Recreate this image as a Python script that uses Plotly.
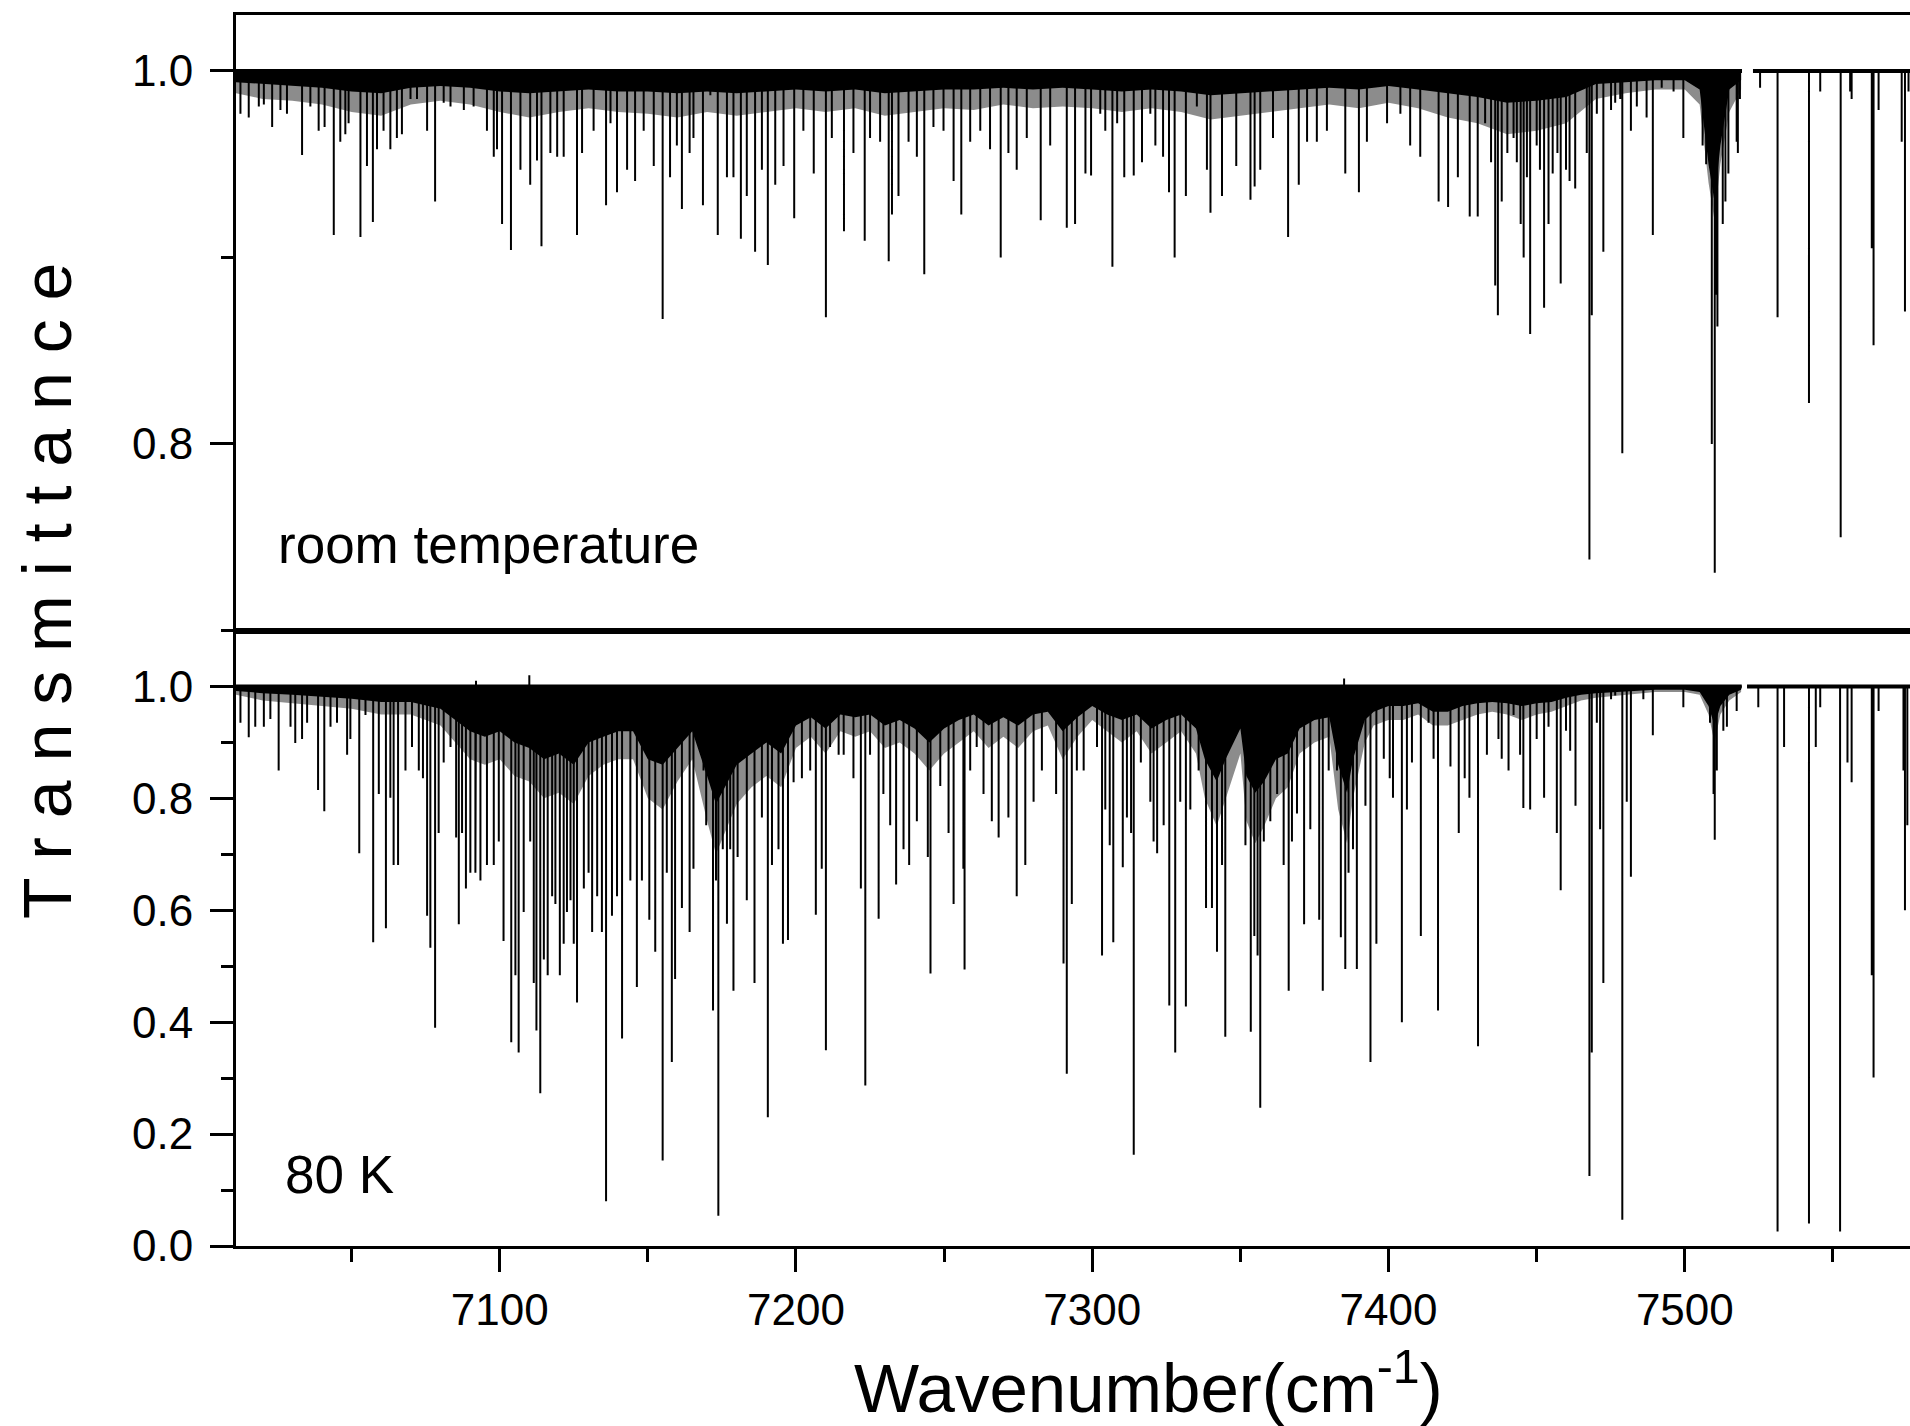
import plotly.graph_objects as go
from plotly.subplots import make_subplots

# absorption lines (wavenumber, transmittance at line centre)
rt_wn = [7012.5, 7015.3, 7018.7, 7020.4, 7023.2, 7026.0, 7028.2, 7033.3, 7036.1, 7038.9,
         7040.9, 7044.0, 7046.2, 7047.9, 7049.0, 7053.0, 7055.2, 7057.2, 7058.6, 7060.8,
         7063.1, 7065.3, 7067.0, 7069.9, 7072.1, 7075.5, 7078.2, 7081.1, 7083.4, 7087.9,
         7091.2, 7095.7, 7098.0, 7099.1, 7100.8, 7103.8, 7107.0, 7110.3, 7112.6, 7114.1,
         7117.1, 7119.4, 7121.6, 7126.1, 7127.8, 7131.7, 7135.9, 7137.4, 7139.6, 7143.0,
         7145.7, 7148.6, 7152.0, 7155.0, 7157.5, 7159.8, 7161.5, 7164.1, 7165.4, 7168.6,
         7171.1, 7173.6, 7176.7, 7178.9, 7181.4, 7183.4, 7186.2, 7188.5, 7190.5, 7193.0,
         7195.8, 7199.4, 7202.5, 7206.0, 7210.1, 7212.1, 7216.2, 7219.4, 7223.2, 7225.0,
         7228.4, 7231.3, 7232.4, 7234.6, 7238.0, 7240.8, 7243.3, 7246.4, 7249.8, 7253.2,
         7255.8, 7258.8, 7262.2, 7265.5, 7269.1, 7271.7, 7274.5, 7277.9, 7282.6, 7285.8,
         7291.4, 7294.2, 7297.7, 7299.6, 7302.7, 7304.4, 7306.8, 7308.4, 7310.8, 7314.0,
         7316.8, 7319.6, 7321.3, 7323.9, 7325.9, 7327.8, 7331.6, 7335.3, 7338.7, 7339.9,
         7343.8, 7348.6, 7353.4, 7354.8, 7356.7, 7361.0, 7366.1, 7369.7, 7372.5, 7375.8,
         7379.2, 7385.4, 7390.0, 7392.7, 7399.5, 7404.0, 7407.3, 7410.7, 7416.9, 7420.1,
         7423.4, 7427.4, 7430.1, 7432.6, 7434.6, 7436.0, 7436.9, 7438.2, 7440.1, 7442.2,
         7443.3, 7444.6, 7445.6, 7446.7, 7447.8, 7450.0, 7451.1, 7452.5, 7454.0, 7455.4,
         7457.0, 7458.1, 7459.9, 7461.1, 7463.0, 7466.9, 7467.8, 7468.6, 7470.3, 7472.5,
         7475.1, 7476.5, 7478.2, 7478.9, 7481.8, 7483.8, 7487.1, 7489.2, 7492.2, 7496.2,
         7499.5, 7506.0, 7507.2, 7508.5, 7509.1, 7510.1, 7510.6, 7511.0, 7512.8, 7513.7,
         7514.7, 7517.5, 7517.9, 7518.6, 7525.4, 7531.3, 7541.9, 7545.7, 7552.6, 7555.8,
         7556.3, 7563.1, 7563.7, 7565.4, 7573.2, 7574.3, 7575.5]
rt_T = [0.977, 0.975, 0.981, 0.982, 0.970, 0.979, 0.977, 0.955, 0.981, 0.968,
        0.970, 0.912, 0.962, 0.966, 0.972, 0.911, 0.949, 0.919, 0.958, 0.968,
        0.958, 0.964, 0.966, 0.985, 0.985, 0.968, 0.930, 0.983, 0.981, 0.979,
        0.981, 0.968, 0.954, 0.958, 0.918, 0.904, 0.947, 0.939, 0.952, 0.906,
        0.956, 0.954, 0.954, 0.912, 0.956, 0.968, 0.928, 0.972, 0.935, 0.947,
        0.941, 0.968, 0.949, 0.867, 0.943, 0.960, 0.926, 0.956, 0.964, 0.928,
        0.987, 0.912, 0.943, 0.943, 0.910, 0.933, 0.903, 0.947, 0.896, 0.939,
        0.949, 0.921, 0.968, 0.945, 0.868, 0.964, 0.914, 0.956, 0.909, 0.964,
        0.962, 0.898, 0.923, 0.933, 0.962, 0.954, 0.891, 0.970, 0.968, 0.941,
        0.923, 0.962, 0.968, 0.958, 0.900, 0.956, 0.947, 0.964, 0.920, 0.960,
        0.916, 0.918, 0.945, 0.944, 0.977, 0.968, 0.895, 0.972, 0.943, 0.944,
        0.951, 0.977, 0.960, 0.954, 0.935, 0.900, 0.933, 0.981, 0.947, 0.924,
        0.933, 0.949, 0.931, 0.938, 0.947, 0.964, 0.911, 0.939, 0.962, 0.962,
        0.968, 0.945, 0.935, 0.962, 0.972, 0.977, 0.960, 0.954, 0.930, 0.927,
        0.943, 0.922, 0.922, 0.972, 0.951, 0.885, 0.869, 0.930, 0.956, 0.964,
        0.951, 0.918, 0.900, 0.943, 0.859, 0.960, 0.947, 0.873, 0.918, 0.945,
        0.956, 0.886, 0.947, 0.941, 0.937, 0.956, 0.738, 0.869, 0.977, 0.903,
        0.979, 0.983, 0.985, 0.795, 0.968, 0.981, 0.975, 0.912, 0.991, 0.989,
        0.964, 0.960, 0.950, 0.956, 0.800, 0.731, 0.880, 0.863, 0.918, 0.930,
        0.945, 0.962, 0.956, 0.985, 0.991, 0.868, 0.822, 0.989, 0.750, 0.989,
        0.985, 0.905, 0.853, 0.979, 0.962, 0.871, 0.989]

# unresolved line forest under the baseline, room temperature:
# core = solid black part, forest = lower edge of the dense weak lines
rt_band_wn = [7011, 7020, 7030, 7040, 7050, 7060, 7070, 7080, 7090, 7100, 7110, 7120, 7130,
              7140, 7150, 7160, 7170, 7180, 7190, 7200, 7210, 7220, 7230, 7240, 7250, 7260,
              7270, 7280, 7290, 7300, 7310, 7320, 7330, 7340, 7350, 7360, 7370, 7380, 7390,
              7400, 7410, 7420, 7430, 7440, 7450, 7460, 7470, 7480, 7490, 7500, 7505, 7508,
              7510, 7512, 7515, 7519]
rt_core_T = [0.994, 0.993, 0.992, 0.991, 0.989, 0.988, 0.991, 0.992, 0.991, 0.989, 0.988, 0.989, 0.990,
             0.989, 0.989, 0.988, 0.989, 0.988, 0.989, 0.990, 0.989, 0.990, 0.988, 0.989, 0.990, 0.990,
             0.991, 0.990, 0.991, 0.990, 0.989, 0.990, 0.989, 0.987, 0.988, 0.989, 0.990, 0.991, 0.990,
             0.992, 0.990, 0.988, 0.986, 0.983, 0.984, 0.986, 0.993, 0.994, 0.995, 0.995, 0.990, 0.950,
             0.930, 0.960, 0.990, 0.995]
rt_forest_T = [0.988, 0.985, 0.984, 0.982, 0.978, 0.976, 0.982, 0.984, 0.982, 0.978, 0.975, 0.978, 0.980,
               0.978, 0.977, 0.975, 0.978, 0.976, 0.978, 0.980, 0.978, 0.980, 0.976, 0.978, 0.980, 0.979,
               0.982, 0.980, 0.981, 0.980, 0.978, 0.980, 0.978, 0.974, 0.976, 0.978, 0.980, 0.982, 0.980,
               0.983, 0.980, 0.975, 0.972, 0.966, 0.968, 0.972, 0.985, 0.988, 0.990, 0.990, 0.982, 0.940,
               0.920, 0.950, 0.978, 0.990]
rt_segments = [(7010.0, 7519.3), (7523.0, 7580.0)]

# absorption lines
k80_wn = [7012.5, 7015.3, 7017.5, 7020.4, 7022.6, 7025.4, 7029.4, 7031.0, 7033.3, 7035.0,
          7038.7, 7040.8, 7042.9, 7045.1, 7048.5, 7049.6, 7052.6, 7054.7, 7057.3, 7059.2,
          7061.6, 7063.1, 7064.2, 7065.7, 7068.2, 7070.4, 7072.7, 7074.1, 7075.5, 7076.6,
          7078.2, 7079.4, 7081.1, 7083.4, 7085.3, 7086.2, 7087.3, 7088.6, 7090.1, 7091.8,
          7092.0, 7093.5, 7095.7, 7098.0, 7099.7, 7101.3, 7103.9, 7105.3, 7106.4, 7108.1,
          7110.0, 7110.3, 7111.5, 7112.4, 7113.7, 7114.9, 7116.2, 7117.7, 7118.8, 7120.3,
          7121.6, 7122.7, 7123.9, 7125.0, 7126.1, 7128.4, 7130.0, 7131.2, 7132.9, 7134.5,
          7135.9, 7137.9, 7139.6, 7141.3, 7144.1, 7146.3, 7148.0, 7150.5, 7152.5, 7155.0,
          7156.4, 7158.1, 7159.2, 7161.5, 7164.1, 7165.4, 7168.8, 7169.7, 7172.0, 7173.0,
          7173.8, 7175.3, 7176.7, 7177.8, 7178.9, 7180.3, 7183.4, 7186.0, 7188.5, 7190.5,
          7191.9, 7194.1, 7195.6, 7197.3, 7199.2, 7202.0, 7204.8, 7206.7, 7208.7, 7210.1,
          7211.5, 7214.4, 7216.1, 7219.4, 7221.9, 7223.4, 7225.0, 7227.9, 7229.5, 7231.8,
          7233.8, 7236.3, 7238.2, 7240.8, 7244.5, 7245.4, 7248.7, 7251.5, 7253.2, 7256.5,
          7256.9, 7258.8, 7261.0, 7263.3, 7266.1, 7268.4, 7271.7, 7274.5, 7277.4, 7280.2,
          7283.0, 7287.8, 7290.3, 7291.4, 7293.1, 7294.8, 7297.1, 7301.6, 7303.3, 7304.4,
          7305.9, 7307.1, 7310.3, 7311.7, 7313.1, 7314.0, 7316.4, 7319.6, 7320.7, 7321.9,
          7324.1, 7326.0, 7328.0, 7329.7, 7331.6, 7333.1, 7335.9, 7338.4, 7340.4, 7342.1,
          7343.8, 7344.9, 7347.7, 7351.7, 7353.5, 7354.7, 7355.8, 7356.7, 7357.9, 7360.1,
          7362.4, 7364.6, 7366.3, 7367.4, 7369.1, 7371.5, 7373.6, 7376.6, 7377.8, 7379.8,
          7382.6, 7383.9, 7385.0, 7385.4, 7386.5, 7388.0, 7389.3, 7392.2, 7393.9, 7395.9,
          7398.4, 7400.4, 7401.5, 7404.5, 7406.2, 7407.9, 7410.9, 7413.5, 7415.2, 7416.7,
          7420.9, 7423.7, 7425.7, 7427.3, 7430.2, 7433.2, 7437.1, 7438.2, 7440.5, 7442.2,
          7444.4, 7445.5, 7447.8, 7450.0, 7452.5, 7454.0, 7456.8, 7458.1, 7459.9, 7461.3,
          7463.1, 7467.8, 7468.6, 7470.3, 7471.4, 7472.5, 7475.1, 7476.5, 7478.9, 7480.4,
          7481.8, 7486.0, 7489.2, 7499.5, 7508.5, 7509.7, 7510.1, 7510.8, 7513.0, 7514.2,
          7517.5, 7524.8, 7531.3, 7533.5, 7541.9, 7544.2, 7545.7, 7552.4, 7554.9, 7556.3,
          7563.1, 7563.7, 7565.4, 7573.8, 7574.3, 7575.1]
k80_T = [0.935, 0.909, 0.928, 0.928, 0.942, 0.850, 0.928, 0.899, 0.906, 0.935,
         0.815, 0.777, 0.928, 0.935, 0.878, 0.906, 0.702, 0.949, 0.543, 0.808,
         0.568, 0.801, 0.681, 0.681, 0.850, 0.892, 0.850, 0.836, 0.590, 0.533,
         0.390, 0.738, 0.864, 0.892, 0.730, 0.575, 0.738, 0.639, 0.667, 0.667,
         1.010, 0.653, 0.681, 0.681, 0.723, 0.545, 0.364, 0.484, 0.346, 0.597,
         1.020, 0.723, 0.470, 0.385, 0.273, 0.512, 0.484, 0.625, 0.611, 0.484,
         0.540, 0.597, 0.618, 0.540, 0.435, 0.639, 0.667, 0.561, 0.625, 0.561,
         0.080, 0.590, 0.625, 0.371, 0.653, 0.463, 0.653, 0.583, 0.526, 0.153,
         0.667, 0.329, 0.477, 0.604, 0.561, 0.674, 0.850, 0.752, 0.421, 0.653,
         0.054, 0.709, 0.576, 0.709, 0.456, 0.695, 0.618, 0.470, 0.766, 0.230,
         0.681, 0.709, 0.540, 0.547, 0.829, 0.836, 0.850, 0.592, 0.674, 0.350,
         0.892, 0.878, 0.878, 0.836, 0.639, 0.287, 0.878, 0.585, 0.808, 0.752,
         0.646, 0.709, 0.681, 0.759, 0.695, 0.487, 0.822, 0.738, 0.611, 0.674,
         0.494, 0.850, 0.892, 0.808, 0.759, 0.730, 0.766, 0.625, 0.681, 0.794,
         0.850, 0.808, 0.505, 0.308, 0.611, 0.850, 0.850, 0.892, 0.519, 0.780,
         0.716, 0.543, 0.677, 0.766, 0.738, 0.163, 0.864, 0.794, 0.723, 0.702,
         0.752, 0.430, 0.346, 0.794, 0.428, 0.780, 0.850, 0.604, 0.604, 0.526,
         0.681, 0.374, 0.906, 0.716, 0.383, 0.554, 0.519, 0.247, 0.723, 0.759,
         0.808, 0.681, 0.456, 0.723, 0.773, 0.575, 0.745, 0.583, 0.456, 0.850,
         0.850, 0.552, 1.014, 0.495, 0.667, 0.709, 0.495, 0.787, 0.329, 0.540,
         0.871, 0.836, 0.801, 0.400, 0.780, 0.864, 0.554, 0.935, 0.871, 0.421,
         0.857, 0.738, 0.836, 0.801, 0.357, 0.878, 0.906, 0.871, 0.850, 0.949,
         0.878, 0.783, 0.780, 0.906, 0.801, 0.928, 0.738, 0.636, 0.921, 0.885,
         0.787, 0.125, 0.346, 0.935, 0.745, 0.470, 0.977, 0.984, 0.047, 0.794,
         0.660, 0.977, 0.913, 0.963, 0.935, 0.808, 0.726, 0.850, 0.921, 0.928,
         0.956, 0.963, 0.026, 0.892, 0.040, 0.892, 0.963, 0.026, 0.864, 0.829,
         0.484, 0.301, 0.956, 0.850, 0.600, 0.752]

# unresolved line forest, 80 K
k80_band_wn = [7011, 7020, 7030, 7040, 7050, 7060, 7070, 7080, 7085, 7090, 7095, 7100, 7105,
               7110, 7115, 7120, 7125, 7130, 7135, 7140, 7145, 7150, 7155, 7160, 7165, 7170,
               7173, 7176, 7180, 7185, 7190, 7195, 7200, 7205, 7210, 7215, 7220, 7225, 7230,
               7235, 7240, 7245, 7250, 7255, 7260, 7265, 7270, 7275, 7280, 7285, 7290, 7295,
               7300, 7305, 7310, 7315, 7320, 7325, 7330, 7335, 7338, 7342, 7345, 7350, 7352,
               7355, 7358, 7362, 7366, 7370, 7375, 7380, 7383, 7386, 7388, 7392, 7395, 7400,
               7405, 7410, 7415, 7420, 7425, 7430, 7435, 7440, 7445, 7450, 7455, 7460, 7465,
               7470, 7480, 7490, 7500, 7505, 7508, 7510, 7512, 7515, 7519]
k80_core_T = [0.992, 0.988, 0.985, 0.982, 0.978, 0.972, 0.972, 0.960, 0.940, 0.920, 0.910, 0.920, 0.900,
              0.890, 0.870, 0.880, 0.860, 0.900, 0.910, 0.920, 0.920, 0.870, 0.860, 0.890, 0.920, 0.840,
              0.790, 0.820, 0.860, 0.880, 0.900, 0.880, 0.930, 0.945, 0.925, 0.950, 0.945, 0.950, 0.930,
              0.940, 0.925, 0.900, 0.925, 0.940, 0.950, 0.930, 0.945, 0.930, 0.950, 0.955, 0.920, 0.945,
              0.965, 0.950, 0.940, 0.950, 0.925, 0.940, 0.950, 0.925, 0.870, 0.830, 0.870, 0.925, 0.840,
              0.810, 0.830, 0.870, 0.880, 0.925, 0.940, 0.945, 0.860, 0.810, 0.870, 0.940, 0.955, 0.965,
              0.965, 0.970, 0.955, 0.955, 0.965, 0.970, 0.972, 0.970, 0.965, 0.970, 0.972, 0.980, 0.985,
              0.988, 0.991, 0.994, 0.994, 0.990, 0.965, 0.930, 0.965, 0.985, 0.994]
k80_forest_T = [0.985, 0.975, 0.970, 0.965, 0.960, 0.950, 0.950, 0.930, 0.900, 0.870, 0.860, 0.870, 0.840,
                0.830, 0.800, 0.810, 0.790, 0.840, 0.860, 0.870, 0.870, 0.800, 0.780, 0.830, 0.870, 0.760,
                0.700, 0.740, 0.790, 0.820, 0.840, 0.820, 0.890, 0.910, 0.880, 0.920, 0.910, 0.920, 0.890,
                0.900, 0.880, 0.850, 0.880, 0.900, 0.920, 0.890, 0.910, 0.890, 0.920, 0.930, 0.870, 0.910,
                0.940, 0.920, 0.900, 0.920, 0.880, 0.900, 0.920, 0.880, 0.800, 0.750, 0.800, 0.880, 0.760,
                0.720, 0.750, 0.800, 0.820, 0.880, 0.900, 0.910, 0.780, 0.720, 0.800, 0.900, 0.930, 0.940,
                0.940, 0.950, 0.930, 0.930, 0.940, 0.950, 0.955, 0.950, 0.940, 0.950, 0.955, 0.965, 0.975,
                0.980, 0.985, 0.990, 0.990, 0.985, 0.950, 0.900, 0.950, 0.975, 0.990]
k80_segments = [(7010.0, 7519.2), (7521.0, 7580.0)]

BASE = 1.0
FONT = "Liberation Sans, Arial, Helvetica, sans-serif"


def stick_path(wn, T, segments):
    # continuous trace: along the baseline, down to each line minimum and back
    pairs = sorted(zip(wn, T))
    xs, ys = [], []
    for lo, hi in segments:
        xs.append(lo)
        ys.append(BASE)
        for p, t in pairs:
            if lo <= p <= hi:
                xs += [p, p, p]
                ys += [BASE, t, BASE]
        xs += [hi, None]
        ys += [BASE, None]
    return xs, ys


def base_path(segments):
    xs, ys = [], []
    for lo, hi in segments:
        xs += [lo, hi, None]
        ys += [BASE, BASE, None]
    return xs, ys


def band_poly(wn, T):
    return list(wn) + list(wn[::-1]), list(T) + [BASE] * len(wn)


fig = make_subplots(rows=2, cols=1, shared_xaxes=True, vertical_spacing=0)

panels = [(1, rt_wn, rt_T, rt_band_wn, rt_core_T, rt_forest_T, rt_segments),
          (2, k80_wn, k80_T, k80_band_wn, k80_core_T, k80_forest_T, k80_segments)]
for row, wn, T, bwn, core, forest, segs in panels:
    px, py = band_poly(bwn, forest)
    fig.add_trace(go.Scatter(x=px, y=py, fill="toself", fillcolor="rgba(0,0,0,0.45)",
                             mode="lines", line=dict(width=0), hoverinfo="skip"), row=row, col=1)
    px, py = band_poly(bwn, core)
    fig.add_trace(go.Scatter(x=px, y=py, fill="toself", fillcolor="black", mode="lines",
                             line=dict(width=0), hoverinfo="skip"), row=row, col=1)
    bx, by = base_path(segs)
    fig.add_trace(go.Scatter(x=bx, y=by, mode="lines", line=dict(color="black", width=4)),
                  row=row, col=1)
    sx, sy = stick_path(wn, T, segs)
    fig.add_trace(go.Scatter(x=sx, y=sy, mode="lines", line=dict(color="black", width=2)),
                  row=row, col=1)

axis_common = dict(showline=True, linecolor="black", linewidth=3, showgrid=False,
                   zeroline=False, tickcolor="black", tickwidth=3,
                   tickfont=dict(family=FONT, size=44, color="black"))

fig.update_xaxes(range=[7011, 7576], mirror=True, **axis_common)
fig.update_xaxes(ticks="", showticklabels=False, row=1, col=1)
fig.update_xaxes(ticks="outside", ticklen=23, tickvals=[7100, 7200, 7300, 7400, 7500],
                 minor=dict(tickvals=[7050, 7150, 7250, 7350, 7450, 7550], ticks="outside",
                            ticklen=13, tickwidth=3, tickcolor="black"),
                 row=2, col=1)

fig.update_yaxes(mirror=False, ticks="outside", ticklen=23, ticklabelstandoff=8, **axis_common)
fig.update_yaxes(range=[0.70, 1.03], tickvals=[0.8, 1.0], ticktext=["0.8", "1.0"],
                 minor=dict(tickvals=[0.7, 0.9], ticks="outside", ticklen=12, tickwidth=3,
                            tickcolor="black"),
                 row=1, col=1)
fig.update_yaxes(range=[0, 1.1], tickvals=[0, 0.2, 0.4, 0.6, 0.8, 1.0],
                 ticktext=["0.0", "0.2", "0.4", "0.6", "0.8", "1.0"],
                 minor=dict(tickvals=[0.1, 0.3, 0.5, 0.7, 0.9, 1.1], ticks="outside",
                            ticklen=12, tickwidth=3, tickcolor="black"),
                 row=2, col=1)

fig.add_annotation(text="T r a n s m i t t a n c e", textangle=-90, xref="paper", yref="paper",
                   x=-0.113, y=0.532, xanchor="center", yanchor="middle", showarrow=False,
                   font=dict(family=FONT, size=68, color="black"))
fig.add_annotation(text="Wavenumber(cm<sup>-1</sup>)", xref="paper", yref="paper",
                   x=0.545, y=-0.111, xanchor="center", yanchor="middle", showarrow=False,
                   font=dict(family=FONT, size=69, color="black"))
fig.add_annotation(text="room temperature", xref="paper", yref="paper",
                   x=0.024, y=0.570, xanchor="left", yanchor="middle", showarrow=False,
                   font=dict(family=FONT, size=53, color="black"))
fig.add_annotation(text="80 K", xref="paper", yref="paper",
                   x=0.028, y=0.058, xanchor="left", yanchor="middle", showarrow=False,
                   font=dict(family=FONT, size=53, color="black"))

fig.update_layout(width=1910, height=1426, showlegend=False,
                  margin=dict(l=236, r=0, t=15, b=180),
                  plot_bgcolor="white", paper_bgcolor="white")

# drop the default body margin so the page does not scroll and the figure fills the window
fig.write_html("out.html", config={"displayModeBar": False},
               post_script="document.body.style.margin='0';document.body.style.overflow='hidden';")
